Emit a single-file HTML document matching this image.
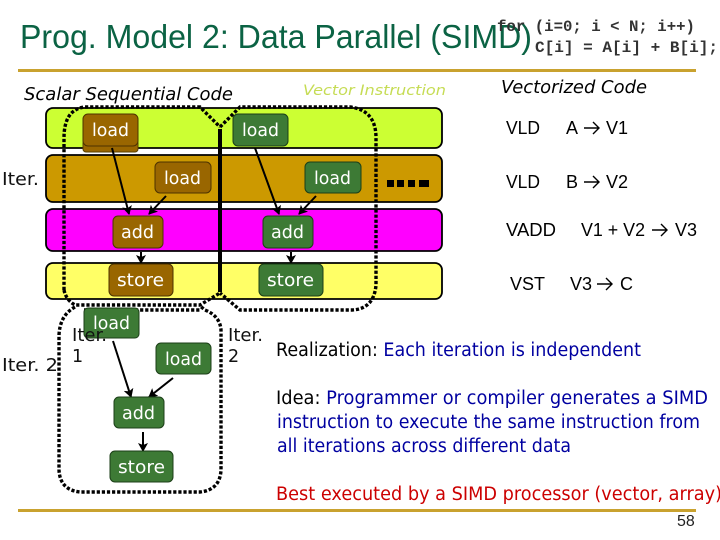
<!DOCTYPE html>
<html><head><meta charset="utf-8"><style>
html,body{margin:0;padding:0;background:#fff;width:720px;height:540px;overflow:hidden}
svg{display:block}
.v{font-family:"DejaVu Sans",sans-serif}
.a{font-family:"Liberation Sans",sans-serif}
.w{fill:#fff;font-family:"DejaVu Sans",sans-serif;font-size:18px}
.d{fill:none;stroke:#000;stroke-width:3.4;stroke-dasharray:3.2 1.9}
.l{stroke:#000;stroke-width:2;fill:none}
.r{stroke:#000;stroke-width:1.4;fill:none}
</style></head><body>
<svg width="720" height="540" viewBox="0 0 720 540" xmlns="http://www.w3.org/2000/svg">
<defs><marker id="m" markerWidth="10" markerHeight="10" refX="8" refY="5" orient="auto" markerUnits="userSpaceOnUse"><path d="M0 0L9 5L0 10L2 5z" fill="#000"/></marker></defs>

<text class="a" x="20" y="48" font-size="33.5" fill="#0b6344" textLength="512" lengthAdjust="spacingAndGlyphs">Prog. Model 2: Data Parallel (SIMD)</text>
<rect x="18" y="69" width="678" height="3" fill="#c9a22f"/>
<rect x="18" y="509" width="678" height="3" fill="#c9a22f"/>

<text x="497" y="31" font-family="Liberation Mono,monospace" font-weight="bold" font-size="15.5" fill="#333" textLength="198" lengthAdjust="spacingAndGlyphs">for (i=0; i &lt; N; i++)</text>
<text x="535" y="52" font-family="Liberation Mono,monospace" font-weight="bold" font-size="15.5" fill="#333" textLength="183" lengthAdjust="spacingAndGlyphs">C[i] = A[i] + B[i];</text>

<text class="v" x="24" y="100" font-size="17.5" font-style="italic" textLength="209" lengthAdjust="spacingAndGlyphs">Scalar Sequential Code</text>
<text class="v" x="303" y="95" font-size="14" font-style="italic" fill="#c6dc55" textLength="143" lengthAdjust="spacingAndGlyphs">Vector Instruction</text>
<text class="v" x="501" y="93" font-size="17.5" font-style="italic" textLength="146" lengthAdjust="spacingAndGlyphs">Vectorized Code</text>

<!-- bands -->
<rect x="46" y="108" width="396" height="40" rx="7" fill="#ccff33" stroke="#000" stroke-width="1.8"/>
<rect x="46" y="155" width="396" height="47" rx="7" fill="#cc9900" stroke="#000" stroke-width="1.8"/>
<rect x="46" y="209" width="396" height="42" rx="7" fill="#ff00ff" stroke="#000" stroke-width="1.8"/>
<rect x="46" y="263" width="396" height="36" rx="7" fill="#ffff66" stroke="#000" stroke-width="1.8"/>

<!-- dots after bands -->
<rect x="387" y="180" width="7" height="7" fill="#000"/><rect x="397" y="180" width="7" height="7" fill="#000"/><rect x="408" y="180" width="7" height="7" fill="#000"/><rect x="419" y="180" width="10" height="7" fill="#000"/>

<!-- shadow box -->
<rect x="83" y="140" width="55" height="12" rx="3" fill="#996600" stroke="#5a4000" stroke-width="1"/>

<!-- loops -->
<path class="d" d="M64 290V138Q64 110 84 107H200L220 127"/>
<path class="d" d="M220 127L240 107H350Q376 110 376 138V285Q374 309 352 310H240L220 293"/>
<path class="d" d="M64 290Q66 300 75 305H200L220 293"/>
<path class="d" d="M75 307Q60 315 59 335V470Q60 490 80 492H200Q220 490 221 470V330Q220 316 205 310L200 306"/>
<path class="d" d="M84 310H200"/>
<path d="M220 129V292" stroke="#000" stroke-width="4" fill="none"/>

<!-- arrows -->
<path class="l" d="M112 148L129 214" marker-end="url(#m)"/>
<path class="l" d="M166 196L149 214" marker-end="url(#m)"/>
<path class="l" d="M141 252V263" marker-end="url(#m)"/>
<path class="l" d="M255 148L279 214" marker-end="url(#m)"/>
<path class="l" d="M316 196L299 214" marker-end="url(#m)"/>
<path class="l" d="M291 252V263" marker-end="url(#m)"/>
<path class="l" d="M113 341L131 397" marker-end="url(#m)"/>
<path class="l" d="M173 378L149 397" marker-end="url(#m)"/>
<path class="l" d="M143 432V451" marker-end="url(#m)"/>

<!-- nodes: brown -->
<g fill="#996600" stroke="#4d3300" stroke-width="1">
<rect x="83" y="114" width="55" height="32" rx="5"/>
<rect x="155" y="162" width="56" height="31" rx="5"/>
<rect x="113" y="216" width="50" height="32" rx="5"/>
<rect x="109" y="264" width="64" height="32" rx="5"/>
</g>
<!-- nodes: green -->
<g fill="#3d7a35" stroke="#1c3f18" stroke-width="1">
<rect x="233" y="114" width="55" height="32" rx="5"/>
<rect x="305" y="162" width="56" height="31" rx="5"/>
<rect x="263" y="216" width="50" height="32" rx="5"/>
<rect x="259" y="264" width="64" height="32" rx="5"/>
<rect x="84" y="308" width="55" height="30" rx="4"/>
<rect x="156" y="343" width="55" height="31" rx="5"/>
<rect x="114" y="397" width="50" height="31" rx="5"/>
<rect x="110" y="451" width="63" height="31" rx="5"/>
</g>
<text class="w" x="92" y="136" textLength="37" lengthAdjust="spacingAndGlyphs">load</text>
<text class="w" x="164" y="184" textLength="37" lengthAdjust="spacingAndGlyphs">load</text>
<text class="w" x="121" y="238" textLength="33" lengthAdjust="spacingAndGlyphs">add</text>
<text class="w" x="117" y="286" textLength="47" lengthAdjust="spacingAndGlyphs">store</text>
<text class="w" x="242" y="136" textLength="37" lengthAdjust="spacingAndGlyphs">load</text>
<text class="w" x="314" y="184" textLength="37" lengthAdjust="spacingAndGlyphs">load</text>
<text class="w" x="271" y="238" textLength="33" lengthAdjust="spacingAndGlyphs">add</text>
<text class="w" x="267" y="286" textLength="47" lengthAdjust="spacingAndGlyphs">store</text>
<text class="w" x="93" y="329" textLength="37" lengthAdjust="spacingAndGlyphs">load</text>
<text class="w" x="165" y="365" textLength="37" lengthAdjust="spacingAndGlyphs">load</text>
<text class="w" x="122" y="419" textLength="33" lengthAdjust="spacingAndGlyphs">add</text>
<text class="w" x="118" y="473" textLength="47" lengthAdjust="spacingAndGlyphs">store</text>

<!-- iter labels -->
<g class="v" font-size="17.5" fill="#111">
<text x="2" y="185" textLength="37" lengthAdjust="spacingAndGlyphs">Iter.</text>
<text x="2" y="371" textLength="56" lengthAdjust="spacingAndGlyphs">Iter. 2</text>
<text x="72" y="341" textLength="35" lengthAdjust="spacingAndGlyphs">Iter.</text>
<text x="72" y="362">1</text>
<text x="228" y="341" textLength="35" lengthAdjust="spacingAndGlyphs">Iter.</text>
<text x="228" y="362">2</text>
</g>

<!-- vector code -->
<g class="a" font-size="18" fill="#000">
<text x="506" y="134" textLength="34" lengthAdjust="spacingAndGlyphs">VLD</text>
<text x="566" y="134">A</text>
<text x="606" y="134">V1</text>
<text x="506" y="188" textLength="34" lengthAdjust="spacingAndGlyphs">VLD</text>
<text x="566" y="188">B</text>
<text x="606" y="188">V2</text>
<text x="506" y="236" textLength="50" lengthAdjust="spacingAndGlyphs">VADD</text>
<text x="581" y="236" textLength="64" lengthAdjust="spacingAndGlyphs">V1 + V2</text>
<text x="675" y="236">V3</text>
<text x="510" y="290" textLength="35" lengthAdjust="spacingAndGlyphs">VST</text>
<text x="570" y="290">V3</text>
<text x="620" y="290">C</text>
</g>
<path class="r" d="M584 128H599M593 122L599 128L593 134"/>
<path class="r" d="M584 182H599M593 176L599 182L593 188"/>
<path class="r" d="M652 230H667M661 224L667 230L661 236"/>
<path class="r" d="M597 284H612M606 278L612 284L606 290"/>

<!-- body text -->
<g class="v" font-size="18.500">
<text x="276" y="356" textLength="365" lengthAdjust="spacingAndGlyphs" fill="#0000a0"><tspan fill="#000">Realization:</tspan> Each iteration is independent</text>
<text x="276" y="404" textLength="432" lengthAdjust="spacingAndGlyphs" fill="#0000a0"><tspan fill="#000">Idea:</tspan> Programmer or compiler generates a SIMD</text>
<text x="277" y="428" textLength="423" lengthAdjust="spacingAndGlyphs" fill="#0000a0">instruction to execute the same instruction from</text>
<text x="277" y="452" textLength="294" lengthAdjust="spacingAndGlyphs" fill="#0000a0">all iterations across different data</text>
<text x="276" y="500" textLength="446" lengthAdjust="spacingAndGlyphs" fill="#cc0000">Best executed by a SIMD processor (vector, array)</text>
</g>
<text class="a" x="677" y="526" font-size="16" fill="#222">58</text>
</svg>
</body></html>
